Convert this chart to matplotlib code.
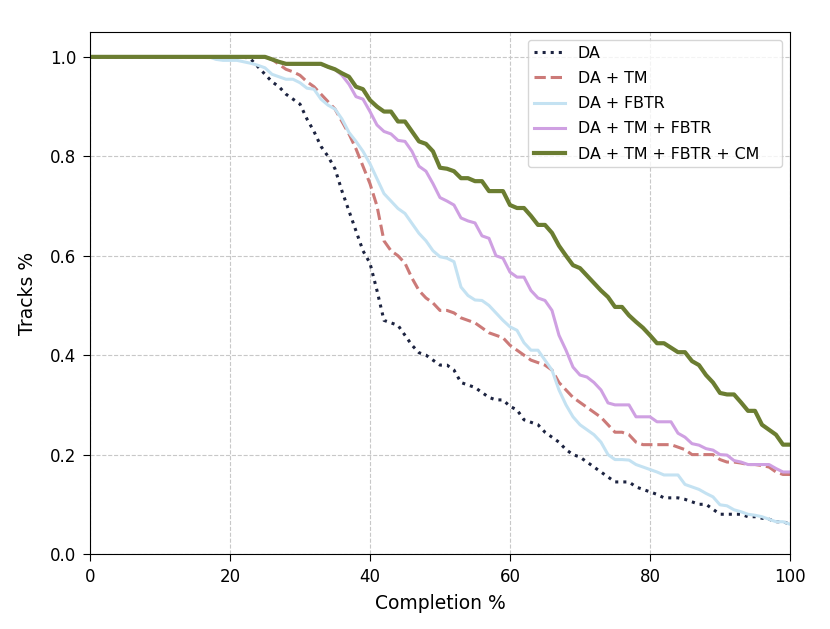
import matplotlib
matplotlib.use("Agg")
import matplotlib.pyplot as plt
import numpy as np

# Completion % (x axis)
completion = list(range(0, 101))

da = [
    1.0, 1.0, 1.0, 1.0, 1.0, 1.0, 1.0, 1.0, 1.0, 1.0,
    1.0, 1.0, 1.0, 1.0, 1.0, 1.0, 1.0, 1.0, 1.0, 1.0,
    1.0, 1.0, 1.0, 0.995, 0.98, 0.965, 0.95, 0.94, 0.925, 0.915,
    0.905, 0.875, 0.85, 0.82, 0.80, 0.775, 0.73, 0.69, 0.65, 0.61,
    0.585, 0.53, 0.47, 0.465, 0.46, 0.44, 0.42, 0.405, 0.40, 0.39,
    0.38, 0.38, 0.37, 0.345, 0.34, 0.335, 0.325, 0.315, 0.31, 0.31,
    0.297, 0.29, 0.27, 0.265, 0.26, 0.245, 0.235, 0.225, 0.21, 0.20,
    0.195, 0.185, 0.175, 0.165, 0.155, 0.145, 0.145, 0.145, 0.135, 0.13,
    0.125, 0.12, 0.113, 0.113, 0.113, 0.11, 0.105, 0.10, 0.10, 0.09,
    0.08, 0.08, 0.08, 0.08, 0.075, 0.075, 0.072, 0.07, 0.065, 0.065,
    0.06,
]

da_tm = [
    1.0, 1.0, 1.0, 1.0, 1.0, 1.0, 1.0, 1.0, 1.0, 1.0,
    1.0, 1.0, 1.0, 1.0, 1.0, 1.0, 1.0, 1.0, 1.0, 1.0,
    1.0, 1.0, 1.0, 1.0, 1.0, 1.0, 0.995, 0.985, 0.975, 0.97,
    0.963, 0.95, 0.94, 0.925, 0.91, 0.895, 0.87, 0.845, 0.815, 0.78,
    0.745, 0.70, 0.63, 0.61, 0.60, 0.585, 0.555, 0.53, 0.515, 0.505,
    0.49, 0.49, 0.485, 0.475, 0.47, 0.465, 0.455, 0.445, 0.44, 0.435,
    0.42, 0.41, 0.40, 0.39, 0.385, 0.38, 0.37, 0.345, 0.33, 0.315,
    0.305, 0.295, 0.285, 0.275, 0.26, 0.245, 0.245, 0.24, 0.225, 0.22,
    0.22, 0.22, 0.22, 0.22, 0.215, 0.21, 0.20, 0.20, 0.20, 0.20,
    0.19, 0.185, 0.185, 0.183, 0.18, 0.18, 0.178, 0.175, 0.165, 0.16,
    0.16,
]

da_fbtr = [
    1.0, 1.0, 1.0, 1.0, 1.0, 1.0, 1.0, 1.0, 1.0, 1.0,
    1.0, 1.0, 1.0, 1.0, 1.0, 1.0, 1.0, 1.0, 0.995, 0.993,
    0.993, 0.993, 0.99, 0.987, 0.983, 0.978, 0.965, 0.96, 0.955, 0.955,
    0.948, 0.937, 0.935, 0.915, 0.903, 0.895, 0.875, 0.848, 0.83, 0.81,
    0.785, 0.755, 0.725, 0.71, 0.695, 0.685, 0.665, 0.645, 0.63, 0.61,
    0.598, 0.595, 0.588, 0.537, 0.52, 0.511, 0.51, 0.50, 0.485, 0.47,
    0.457, 0.45, 0.425, 0.41, 0.41, 0.39, 0.37, 0.33, 0.30, 0.276,
    0.26, 0.25, 0.24, 0.225, 0.20, 0.19, 0.19, 0.189, 0.18, 0.175,
    0.17, 0.165, 0.159, 0.159, 0.159, 0.14, 0.135, 0.13, 0.122, 0.115,
    0.099, 0.097, 0.089, 0.085, 0.08, 0.078, 0.075, 0.07, 0.065, 0.065,
    0.06,
]

da_tm_fbtr = [
    1.0, 1.0, 1.0, 1.0, 1.0, 1.0, 1.0, 1.0, 1.0, 1.0,
    1.0, 1.0, 1.0, 1.0, 1.0, 1.0, 1.0, 1.0, 1.0, 1.0,
    1.0, 1.0, 1.0, 1.0, 1.0, 1.0, 0.995, 0.99, 0.985, 0.985,
    0.985, 0.985, 0.985, 0.985, 0.98, 0.975, 0.963, 0.945, 0.92, 0.915,
    0.89, 0.863, 0.85, 0.845, 0.832, 0.83, 0.81, 0.78, 0.77, 0.745,
    0.717, 0.71, 0.702, 0.676, 0.67, 0.666, 0.64, 0.635, 0.60, 0.595,
    0.567, 0.557, 0.557, 0.53, 0.515, 0.51, 0.49, 0.44, 0.41, 0.376,
    0.36, 0.356, 0.345, 0.33, 0.304, 0.30, 0.30, 0.30, 0.276, 0.276,
    0.276, 0.266, 0.266, 0.266, 0.243, 0.235, 0.222, 0.219, 0.212, 0.209,
    0.20, 0.199, 0.188, 0.185, 0.18, 0.18, 0.18, 0.18, 0.172, 0.165,
    0.165,
]

da_tm_fbtr_cm = [
    1.0, 1.0, 1.0, 1.0, 1.0, 1.0, 1.0, 1.0, 1.0, 1.0,
    1.0, 1.0, 1.0, 1.0, 1.0, 1.0, 1.0, 1.0, 1.0, 1.0,
    1.0, 1.0, 1.0, 1.0, 1.0, 1.0, 0.995, 0.99, 0.986, 0.986,
    0.986, 0.986, 0.986, 0.986, 0.98, 0.975, 0.967, 0.96, 0.94, 0.935,
    0.913, 0.90, 0.89, 0.89, 0.87, 0.87, 0.85, 0.83, 0.825, 0.81,
    0.777, 0.775, 0.77, 0.756, 0.756, 0.75, 0.75, 0.73, 0.73, 0.73,
    0.702, 0.696, 0.696, 0.68, 0.662, 0.662, 0.646, 0.62, 0.60, 0.581,
    0.575, 0.56, 0.545, 0.53, 0.517, 0.497, 0.497, 0.48, 0.467, 0.455,
    0.44, 0.424, 0.424, 0.415, 0.406, 0.406, 0.388, 0.38, 0.36, 0.345,
    0.324, 0.321, 0.321, 0.305, 0.288, 0.288, 0.26, 0.25, 0.24, 0.22,
    0.22,
]

fig = plt.figure(figsize=(8.3, 6.29), dpi=100)
ax = fig.add_axes([0.1084, 0.1192, 0.8434, 0.8299])

ax.plot(completion, da, color="#1c2340", linestyle=":", linewidth=2.2,
        label="DA")
ax.plot(completion, da_tm, color="#cc7a78", linestyle="--", linewidth=2.2,
        label="DA + TM")
ax.plot(completion, da_fbtr, color="#c4e2f2", linestyle="-", linewidth=2.2,
        label="DA + FBTR")
ax.plot(completion, da_tm_fbtr, color="#cfa0e2", linestyle="-", linewidth=2.2,
        label="DA + TM + FBTR")
ax.plot(completion, da_tm_fbtr_cm, color="#6b7d31", linestyle="-",
        linewidth=3.0, label="DA + TM + FBTR + CM")

ax.set_xlim(0, 100)
ax.set_ylim(0, 1.05)
ax.set_xticks([0, 20, 40, 60, 80, 100])
ax.set_yticks([0.0, 0.2, 0.4, 0.6, 0.8, 1.0])
ax.tick_params(labelsize=12, length=5, pad=5)
ax.set_xlabel("Completion %", fontsize=13.5, labelpad=6)
ax.set_ylabel("Tracks %", fontsize=13.5, labelpad=9)
ax.grid(True, linestyle="--", color="#c8c8c8", linewidth=0.8)
# legend box stretched to the reference width
ax.legend(loc="upper left", bbox_to_anchor=(0.6257, 0.0, 0.3629, 0.9847),
          mode="expand", borderaxespad=0.0, fontsize=11.4,
          handlelength=2.0, labelspacing=0.65, borderpad=0.35)

plt.savefig("out.png", dpi=100)
